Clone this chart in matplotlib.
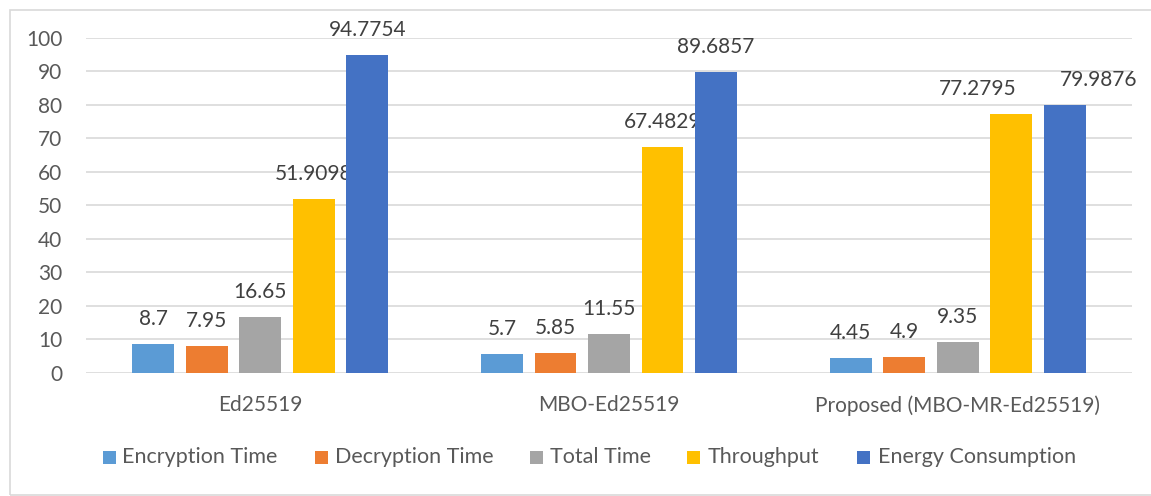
import matplotlib
matplotlib.use("Agg")
import matplotlib.pyplot as plt
from matplotlib.patches import Rectangle
import numpy as np

plt.rcParams['font.family'] = ['Lato', 'DejaVu Sans']

categories = ["Ed25519", "MBO-Ed25519", "Proposed (MBO-MR-Ed25519)"]
series_names = ["Encryption Time", "Decryption Time", "Total Time", "Throughput", "Energy Consumption"]
encryption_time = [8.7, 5.7, 4.45]
decryption_time = [7.95, 5.85, 4.9]
total_time = [16.65, 11.55, 9.35]
throughput = [51.9098, 67.4829, 77.2795]
energy_consumption = [94.7754, 89.6857, 79.9876]
label_text = [
    ["8.7", "5.7", "4.45"],
    ["7.95", "5.85", "4.9"],
    ["16.65", "11.55", "9.35"],
    ["51.9098", "67.4829", "77.2795"],
    ["94.7754", "89.6857", "79.9876"],
]
colors = ["#5B9BD5", "#ED7D31", "#A5A5A5", "#FFC000", "#4472C4"]
y_ticks = list(range(0, 101, 10))

series = [encryption_time, decryption_time, total_time, throughput, energy_consumption]

W, H = 1151, 496
fig = plt.figure(figsize=(W / 100, H / 100), dpi=100)
ax = fig.add_axes([86 / W, 123 / H, (1132 - 86) / W, (373 - 37.7) / H])

# outer chart border
fig.patches.append(Rectangle((9.5 / W, 1 - 494.5 / H), 1.2, (494.5 - 10) / H,
                             transform=fig.transFigure, fill=False,
                             edgecolor="#D9D9D9", linewidth=1.2))

# horizontal nudges (pixels) for labels that would otherwise collide
label_nudge = {(3, 2): -33, (4, 2): 34}

x = np.arange(len(categories))
step = 0.1534
bw = 0.12
for i, (vals, col) in enumerate(zip(series, colors)):
    pos = x + (i - 2) * step
    ax.bar(pos, vals, width=bw, color=col, zorder=3, label=series_names[i])
    for j, (p, v, t) in enumerate(zip(pos, vals, label_text[i])):
        dx = label_nudge.get((i, j), 0) * 0.72
        ax.annotate(t, (p, v), xytext=(dx, 18), textcoords="offset points",
                    ha="center", va="center", fontsize=15, color="#404040")

ax.set_xlim(-0.5, 2.5)
ax.set_ylim(0, 100)
ax.set_yticks(y_ticks)
ax.set_xticks(x)
ax.set_xticklabels(categories)
for s in ax.spines.values():
    s.set_visible(False)
ax.yaxis.grid(True, color="#D9D9D9", linewidth=1.2, zorder=0)
ax.set_axisbelow(True)
ax.tick_params(axis="both", length=0, labelsize=15, labelcolor="#595959")
ax.tick_params(axis="y", pad=17)
ax.tick_params(axis="x", pad=16)

# legend row
marker_left = [103, 315, 530, 687, 857]
text_left = [122, 335, 550, 708, 878]
ly = 457
for c, name, mx, tx in zip(colors, series_names, marker_left, text_left):
    fig.patches.append(Rectangle((mx / W, 1 - (ly + 6.5) / H), 13 / W, 13 / H,
                                 transform=fig.transFigure, facecolor=c,
                                 edgecolor="none"))
    fig.text(tx / W, 1 - ly / H, name, ha="left", va="center",
             fontsize=15.5, color="#595959")

fig.savefig("out.png", dpi=100)
